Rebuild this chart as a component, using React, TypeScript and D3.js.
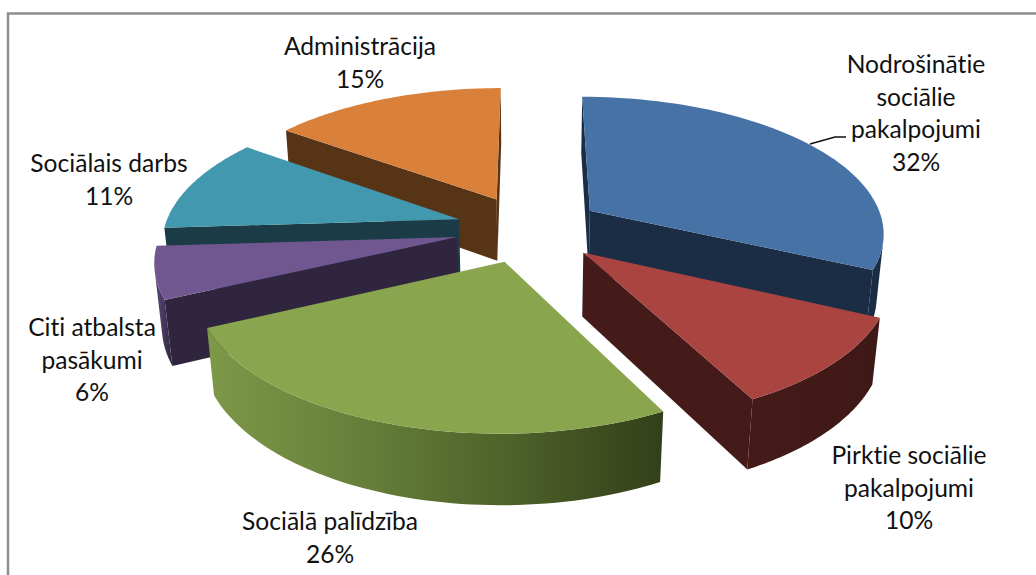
import React from "react";
import * as d3 from "d3";

const categories = ["Nodrošinātie sociālie pakalpojumi", "Pirktie sociālie pakalpojumi", "Sociālā palīdzība", "Citi atbalsta pasākumi", "Sociālais darbs", "Administrācija"];
const values = [32, 10.4, 25.6, 6, 11, 15];
const topColors = ["#4672a6", "#a94441", "#89a54e", "#71578f", "#4198af", "#d9803b"];
const wallColors = ["#1b2d45", "#441b19", "#2f4018", "#2f253f", "#1b3c46", "#583417"];
const arcStops: string[][] = [
  ["#1b2d45", "#1b2d45"],
  ["#441b19", "#3f1917"],
  ["#7d9848", "#66803b", "#4e6129", "#333f1a"],
  ["#5e4a7c", "#2f253f"],
  ["#265664", "#1b3c46"],
  ["#7a4a20", "#583417"],
];
const drawOrder = [5, 4, 3, 0, 1, 2];
const labelLines = [
  ["Nodrošinātie", "sociālie", "pakalpojumi", "32%"],
  ["Pirktie sociālie", "pakalpojumi", "10%"],
  ["Sociālā palīdzība", "26%"],
  ["Citi atbalsta", "pasākumi", "6%"],
  ["Sociālais darbs", "11%"],
  ["Administrācija", "15%"],
];
const labelAnchors: [number, number][] = [[916, 73], [909, 464], [330, 530], [92, 336], [109, 172], [360, 55]];

const W = 1036, H = 575;
const cx = 529, cy = 228.6, R = 295, E = 73.5, tilt = 0.46, depth = 64, persp = 0.0005, conv = 0.02;

type P = [number, number];
const project = (u: number, v: number, z: number): P => {
  const f = 1 / (1 - persp * v + conv * z);
  return [cx + u * f, cy + (tilt * v + depth * z) * f];
};
const area = (ps: P[]) => d3.polygonArea(ps);
const line = d3.line<P>().x((d) => d[0]).y((d) => d[1]);
const closed = (ps: P[]) => (line(ps) ?? "") + "Z";

export default function App() {
  const arcs = d3.pie<number>().sort(null)(values);
  const slices = arcs.map((arc, i) => {
    const mid = (arc.startAngle + arc.endAngle) / 2;
    const ox = E * Math.sin(mid), oy = -E * Math.cos(mid);
    const apex = (z: number) => project(ox, oy, z);
    const rim = (a: number, z: number) => project(ox + R * Math.sin(a), oy - R * Math.cos(a), z);
    const n = 60;
    const angles = d3.range(n + 1).map((k) => arc.startAngle + ((arc.endAngle - arc.startAngle) * k) / n);
    const top = [apex(0), ...angles.map((a) => rim(a, 0))];
    const visible = (p: P, q: P, q2: P, p2: P) => area([p, q, q2, p2]) > 0;
    const flats: string[] = [];
    const s0 = arc.startAngle, s1 = arc.endAngle;
    if (visible(apex(0), rim(s0, 0), rim(s0, 1), apex(1))) flats.push(closed([apex(0), rim(s0, 0), rim(s0, 1), apex(1)]));
    if (visible(rim(s1, 0), apex(0), apex(1), rim(s1, 1))) flats.push(closed([rim(s1, 0), apex(0), apex(1), rim(s1, 1)]));
    const front = d3.range(n).filter((k) => visible(rim(angles[k], 0), rim(angles[k + 1], 0), rim(angles[k + 1], 1), rim(angles[k], 1)));
    let wall: string | null = null, x0 = 0, x1 = 0;
    if (front.length) {
      const as = angles.slice(front[0], front[front.length - 1] + 2);
      const ps = [...as.map((a) => rim(a, 0)), ...as.slice().reverse().map((a) => rim(a, 1))];
      wall = closed(ps);
      [x0, x1] = d3.extent(ps, (d) => d[0]) as [number, number];
    }
    return { i, top: closed(top), flats, wall, x0, x1 };
  });

  return (
    <svg width={W} height={H} viewBox={`0 0 ${W} ${H}`} style={{ position: "absolute", left: 0, top: 0, background: "#fff" }}>
      <defs>
        {slices.map((s) => (
          <linearGradient key={s.i} id={`arc${s.i}`} gradientUnits="userSpaceOnUse" x1={s.x0} x2={s.x1} y1={0} y2={0}>
            {arcStops[s.i].map((c, k) => (
              <stop key={k} offset={k / (arcStops[s.i].length - 1)} stopColor={c} />
            ))}
          </linearGradient>
        ))}
      </defs>
      <path d={line([[8, H], [8, 13.5], [W, 13.5]]) ?? ""} fill="none" stroke="#8e8e8e" strokeWidth={2.5} />
      {drawOrder.map((idx) => {
        const s = slices[idx];
        return (
          <g key={idx} aria-label={categories[idx]}>
            {s.flats.map((d, k) => (
              <path key={k} d={d} fill={wallColors[idx]} />
            ))}
            {s.wall && <path d={s.wall} fill={`url(#arc${idx})`} />}
            <path d={s.top} fill={topColors[idx]} />
          </g>
        );
      })}
      <path d="M810,144L835,137L846,137" fill="none" stroke="#111" strokeWidth={1.5} />
      {labelLines.map((ls, i) => (
        <text key={i} x={labelAnchors[i][0]} y={labelAnchors[i][1]} textAnchor="middle" fontFamily="Lato, 'Open Sans', sans-serif" fontSize={24.6} fill="#111" style={{ fontVariantLigatures: "none" }}>
          {ls.map((t, k) => (
            <tspan key={k} x={labelAnchors[i][0]} dy={k === 0 ? 0 : 32.7}>{t}</tspan>
          ))}
        </text>
      ))}
    </svg>
  );
}
